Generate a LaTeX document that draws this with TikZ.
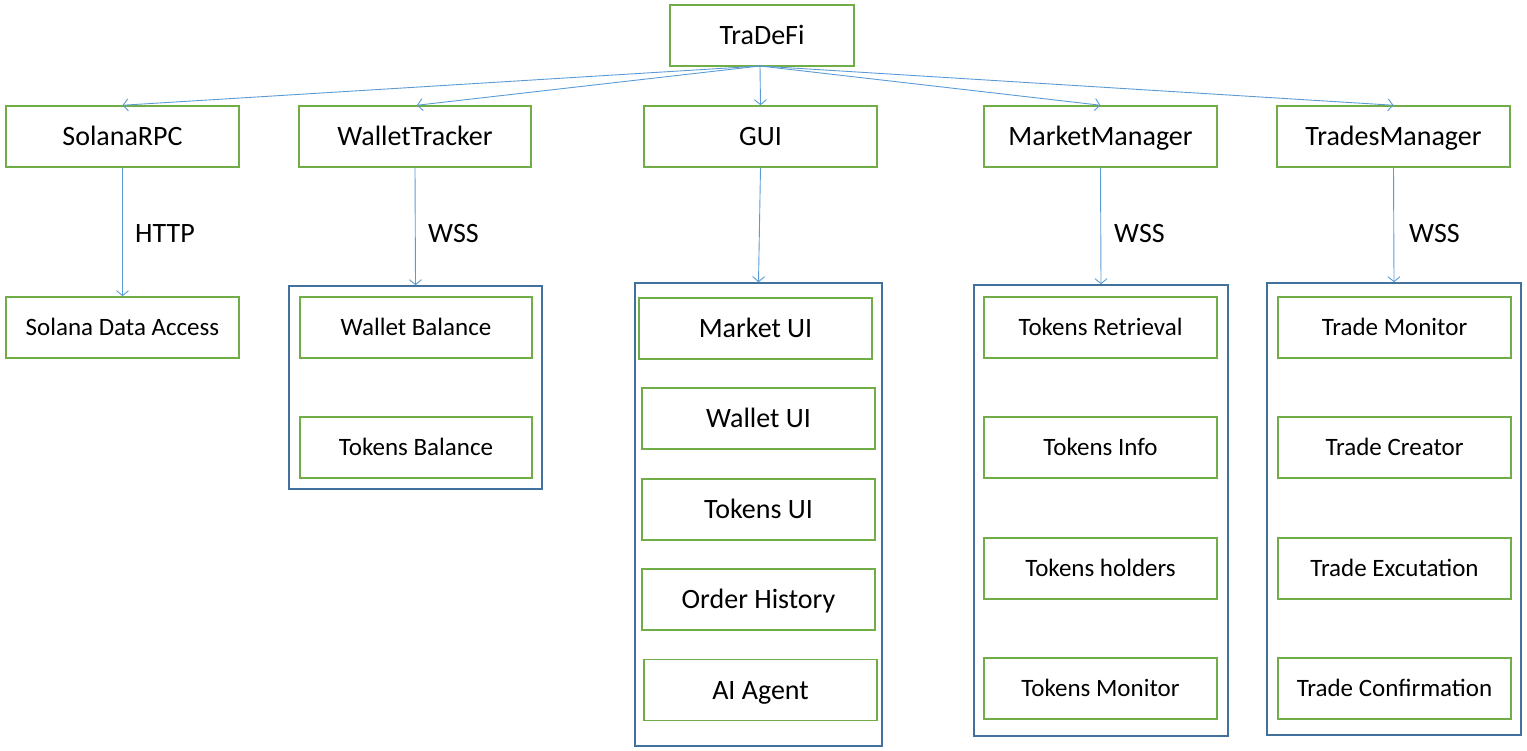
\documentclass[tikz,border=0pt]{standalone}
\usepackage{fontspec}
\setmainfont{Carlito}
\usetikzlibrary{arrows.meta}
\definecolor{boxgreen}{HTML}{70AD47}
\definecolor{contblue}{HTML}{41719C}
\definecolor{arrblue}{HTML}{5B9BD5}
\begin{document}
\begin{tikzpicture}[x=1pt,y=-1pt,
  box/.style={draw=boxgreen,line width=1.5pt,rectangle,inner sep=0pt,minimum height=61pt,minimum width=233pt,text height=20pt,text depth=2pt,font=\fontsize{28}{32}\selectfont},
  subbox/.style={box,text height=18pt,text depth=2pt,font=\fontsize{25}{30}\selectfont},
  guibox/.style={box,font=\fontsize{28}{32}\selectfont},
  container/.style={draw=contblue,line width=1.5pt,rectangle,inner sep=0pt},
  conn/.style={draw=arrblue,line width=0.9pt,-{Straight Barb[length=5pt,width=12pt,line width=0.9pt]}},
  lbl/.style={anchor=west,inner sep=0pt,font=\fontsize{28}{32}\selectfont}]
\useasboundingbox (0,0) rectangle (1527,751);
% containers
\node[container,minimum width=253pt,minimum height=203pt] (walletc) at (415.5,387.5) {};
\node[container,minimum width=247pt,minimum height=463pt] (guic) at (758.5,514.5) {};
\node[container,minimum width=254pt,minimum height=451pt] (marketc) at (1101,510.5) {};
\node[container,minimum width=254pt,minimum height=452pt] (tradesc) at (1394,509) {};
% top
\node[box,minimum width=184pt] (tradefi) at (762,35.5) {TraDeFi};
% level 1
\node[box] (solanarpc) at (122.5,136.5) {SolanaRPC};
\node[box,minimum width=232pt] (wallettracker) at (415,136.5) {WalletTracker};
\node[box] (gui) at (760.5,136.5) {GUI};
\node[box] (marketmanager) at (1100.5,136.5) {MarketManager};
\node[box] (tradesmanager) at (1393.5,136.5) {TradesManager};
% level 2
\node[subbox] (sda) at (122.5,327.5) {Solana Data Access};
\node[subbox,minimum width=232pt] (walletbal) at (416,327.5) {Wallet Balance};
\node[subbox,minimum width=232pt] (tokensbal) at (416,447.5) {Tokens Balance};
\node[guibox] (marketui) at (755.5,328.5) {Market UI};
\node[guibox] (walletui) at (758.5,418.5) {Wallet UI};
\node[guibox] (tokensui) at (758.5,509.5) {Tokens UI};
\node[guibox] (orderhist) at (758.5,599.5) {Order History};
\node[guibox] (aiagent) at (760.5,690) {AI Agent};
\node[subbox] (tokret) at (1100.5,327.5) {Tokens Retrieval};
\node[subbox] (tokinfo) at (1100.5,447.5) {Tokens Info};
\node[subbox] (tokhold) at (1100.5,568.5) {Tokens holders};
\node[subbox] (tokmon) at (1100.5,688.5) {Tokens Monitor};
\node[subbox] (trmon) at (1394.5,327.5) {Trade Monitor};
\node[subbox] (trcre) at (1394.5,447.5) {Trade Creator};
\node[subbox] (trexe) at (1394.5,568.5) {Trade Excutation};
\node[subbox] (trconf) at (1394.5,688.5) {Trade Confirmation};
% labels
\node[lbl] (lhttp) at (135,234) {HTTP};
\node[lbl] (lwss1) at (428,234) {WSS};
\node[lbl] (lwss2) at (1114,234) {WSS};
\node[lbl] (lwss3) at (1409,234) {WSS};
% connectors
\coordinate (src) at (760,66);
\draw[conn] (src) -- (solanarpc.north);
\draw[conn] (src) -- ([xshift=2pt]wallettracker.north);
\draw[conn] (src) -- (gui.north);
\draw[conn] (src) -- (marketmanager.north);
\draw[conn] (src) -- (tradesmanager.north);
\draw[conn] (solanarpc.south) -- (sda.north);
\draw[conn] (wallettracker.south) -- (walletc.north);
\draw[conn] (gui.south) -- (guic.north);
\draw[conn] (marketmanager.south) -- (marketc.north);
\draw[conn] (tradesmanager.south) -- (tradesc.north);
\end{tikzpicture}
\end{document}
